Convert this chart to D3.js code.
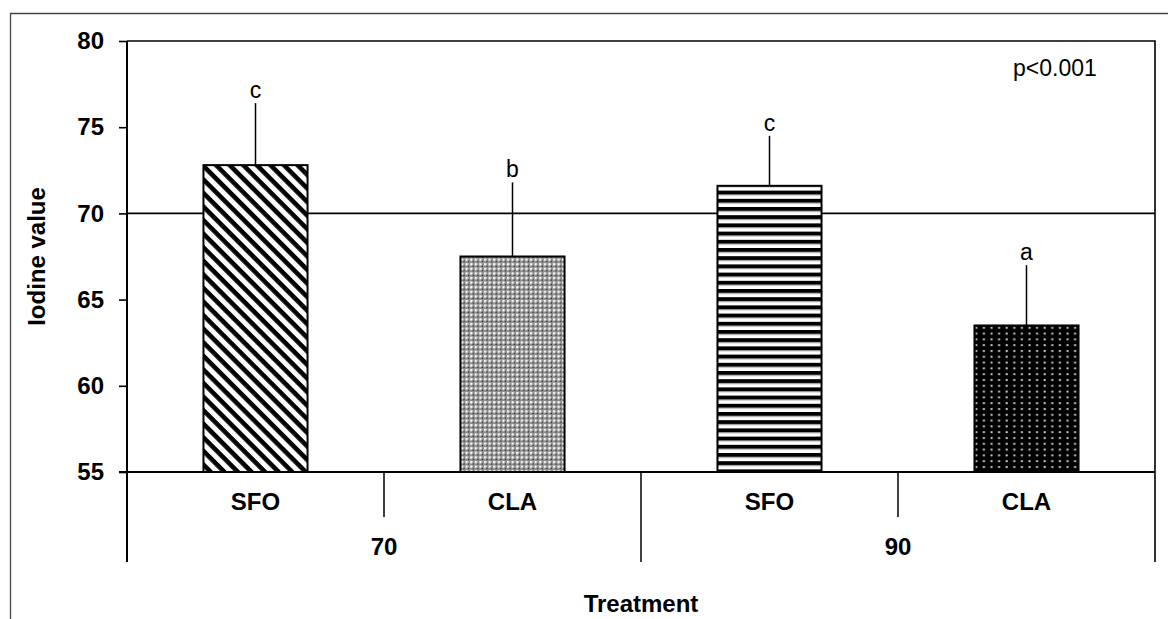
<!DOCTYPE html>
<html>
<head>
<meta charset="utf-8">
<script src="https://cdn.jsdelivr.net/npm/d3@7"></script>
<style>
  html, body { margin: 0; padding: 0; background: #fff; }
  svg { display: block; font-family: "Liberation Sans", Arial, Helvetica, sans-serif; }
</style>
</head>
<body>
<svg id="chart" width="1169" height="619"></svg>
<script>
// Iodine value by fat source (SFO / CLA) within each level (70 / 90)
const groups = ["70", "90"];
const treatments = ["SFO", "CLA"];
const categories = ["70-SFO", "70-CLA", "90-SFO", "90-CLA"];
const means = [72.8, 67.5, 71.6, 63.5];
const sds = [3.6, 4.3, 2.9, 3.5];
const letters = ["c", "b", "c", "a"];
const patternIds = ["diag", "cross", "horiz", "dots"];
const yTicks = [55, 60, 65, 70, 75, 80];
const refValue = 70;
const pLabel = "p<0.001";

const svg = d3.select("#chart");
const plotLeft = 127, plotRight = 1155, plotTop = 41, plotBottom = 472;
const axisEnd = 562, cellSepEnd = 517;

const y = d3.scaleLinear().domain([55, 80]).range([plotBottom, plotTop]);
const x = d3.scaleBand().domain(categories).range([plotLeft, plotRight])
  .paddingInner(0.595).paddingOuter(0.2975);
const xCell = d3.scaleBand().domain(categories).range([plotLeft, plotRight]).padding(0);
const xGroup = d3.scaleBand().domain(groups).range([plotLeft, plotRight]).padding(0);

// fill patterns
const defs = svg.append("defs");
const pd = defs.append("pattern").attr("id", "diag").attr("patternUnits", "userSpaceOnUse")
  .attr("width", 20).attr("height", 9.6).attr("patternTransform", "rotate(45)");
pd.append("rect").attr("width", 20).attr("height", 9.6).attr("fill", "#fff");
pd.append("rect").attr("width", 20).attr("height", 4.6).attr("fill", "#000");

const ph = defs.append("pattern").attr("id", "horiz").attr("patternUnits", "userSpaceOnUse")
  .attr("width", 10).attr("height", 8.2).attr("y", 2);
ph.append("rect").attr("width", 10).attr("height", 8.2).attr("fill", "#fff");
ph.append("rect").attr("width", 10).attr("height", 3.8).attr("fill", "#000");
ph.append("rect").attr("y", 3.8).attr("width", 10).attr("height", 1).attr("fill", "#888");

const pdot = defs.append("pattern").attr("id", "dots").attr("patternUnits", "userSpaceOnUse")
  .attr("width", 7.6).attr("height", 5.8);
pdot.append("rect").attr("width", 7.6).attr("height", 5.8).attr("fill", "#000");
pdot.append("rect").attr("x", 2.5).attr("y", 2).attr("width", 2).attr("height", 2).attr("fill", "#ccc");

const pc = defs.append("pattern").attr("id", "cross").attr("patternUnits", "userSpaceOnUse")
  .attr("width", 4.6).attr("height", 4.6);
pc.append("rect").attr("width", 4.6).attr("height", 4.6).attr("fill", "#8e8e8e");
pc.append("rect").attr("x", 1).attr("y", 1).attr("width", 2.2).attr("height", 2.2).attr("fill", "#fff");
pc.append("rect").attr("x", 3.4).attr("y", 3.4).attr("width", 1.2).attr("height", 1.2).attr("fill", "#222");

// outer frame (left and top edges)
svg.append("path").attr("d", "M10.5,619 V13.5 H1168")
  .attr("fill", "none").attr("stroke", "#444").attr("stroke-width", 1.3);

// plot frame top and right
svg.append("path").attr("d", `M${plotLeft},${plotTop} H${plotRight} V${axisEnd}`)
  .attr("fill", "none").attr("stroke", "#000").attr("stroke-width", 1.6);

// reference line
svg.append("line").attr("x1", plotLeft).attr("x2", plotRight)
  .attr("y1", y(refValue)).attr("y2", y(refValue))
  .attr("stroke", "#000").attr("stroke-width", 1.6);

// error bars (upper only)
svg.append("g").selectAll("line").data(categories).join("line")
  .attr("x1", (d) => x(d) + x.bandwidth() / 2)
  .attr("x2", (d) => x(d) + x.bandwidth() / 2)
  .attr("y1", (d, i) => y(means[i]))
  .attr("y2", (d, i) => y(means[i] + sds[i]))
  .attr("stroke", "#000").attr("stroke-width", 1.5);

// bars
svg.append("g").selectAll("rect").data(categories).join("rect")
  .attr("x", (d) => x(d))
  .attr("width", x.bandwidth())
  .attr("y", (d, i) => y(means[i]))
  .attr("height", (d, i) => y(55) - y(means[i]))
  .attr("fill", (d, i) => `url(#${patternIds[i]})`)
  .attr("stroke", "#000").attr("stroke-width", 2);

// significance letters
svg.append("g").selectAll("text").data(categories).join("text")
  .attr("x", (d) => x(d) + x.bandwidth() / 2)
  .attr("y", (d, i) => y(means[i] + sds[i]) - 5)
  .attr("text-anchor", "middle")
  .attr("font-size", 23).attr("fill", "#000")
  .text((d, i) => letters[i]);

// y axis
const yAxis = svg.append("g").attr("transform", `translate(${plotLeft},0)`)
  .call(d3.axisLeft(y).tickValues(yTicks).tickSize(8).tickPadding(15));
yAxis.select(".domain").remove();
yAxis.selectAll(".tick line").attr("stroke", "#000").attr("stroke-width", 1.6);
yAxis.selectAll(".tick text").attr("font-size", 24).attr("font-weight", "bold")
  .attr("fill", "#000").attr("font-family", "'Liberation Sans', Arial, sans-serif");
svg.append("line").attr("x1", plotLeft).attr("x2", plotLeft).attr("y1", plotTop).attr("y2", axisEnd)
  .attr("stroke", "#000").attr("stroke-width", 2);

// x axis baseline
svg.append("line").attr("x1", plotLeft - 8).attr("x2", plotRight)
  .attr("y1", plotBottom).attr("y2", plotBottom).attr("stroke", "#000").attr("stroke-width", 2);

// category separators (inner boundaries within groups)
const cellEdges = categories.slice(1).map((c) => xCell(c))
  .filter((v) => !groups.slice(1).some((g) => Math.abs(xGroup(g) - v) < 1));
svg.append("g").selectAll("line").data(cellEdges).join("line")
  .attr("x1", (d) => d).attr("x2", (d) => d)
  .attr("y1", plotBottom).attr("y2", cellSepEnd)
  .attr("stroke", "#000").attr("stroke-width", 1.5);

// group separators
const groupEdges = groups.slice(1).map((g) => xGroup(g));
svg.append("g").selectAll("line").data(groupEdges).join("line")
  .attr("x1", (d) => d).attr("x2", (d) => d)
  .attr("y1", plotBottom).attr("y2", axisEnd)
  .attr("stroke", "#000").attr("stroke-width", 1.5);

// treatment labels
svg.append("g").selectAll("text").data(categories).join("text")
  .attr("x", (d) => xCell(d) + xCell.bandwidth() / 2)
  .attr("y", 510)
  .attr("text-anchor", "middle").attr("font-size", 24).attr("font-weight", "bold")
  .text((d, i) => treatments[i % 2]);

// group labels
svg.append("g").selectAll("text").data(groups).join("text")
  .attr("x", (d) => xGroup(d) + xGroup.bandwidth() / 2)
  .attr("y", 555)
  .attr("text-anchor", "middle").attr("font-size", 24).attr("font-weight", "bold")
  .text((d) => d);

// axis titles
svg.append("text").attr("x", (plotLeft + plotRight) / 2).attr("y", 612)
  .attr("text-anchor", "middle").attr("font-size", 24).attr("font-weight", "bold")
  .text("Treatment");
svg.append("text")
  .attr("transform", `translate(45,${(plotTop + plotBottom) / 2}) rotate(-90)`)
  .attr("text-anchor", "middle").attr("font-size", 24).attr("font-weight", "bold")
  .text("Iodine value");

// significance note
svg.append("text").attr("x", 1013).attr("y", 76)
  .attr("font-size", 23).text(pLabel);
</script>
</body>
</html>
